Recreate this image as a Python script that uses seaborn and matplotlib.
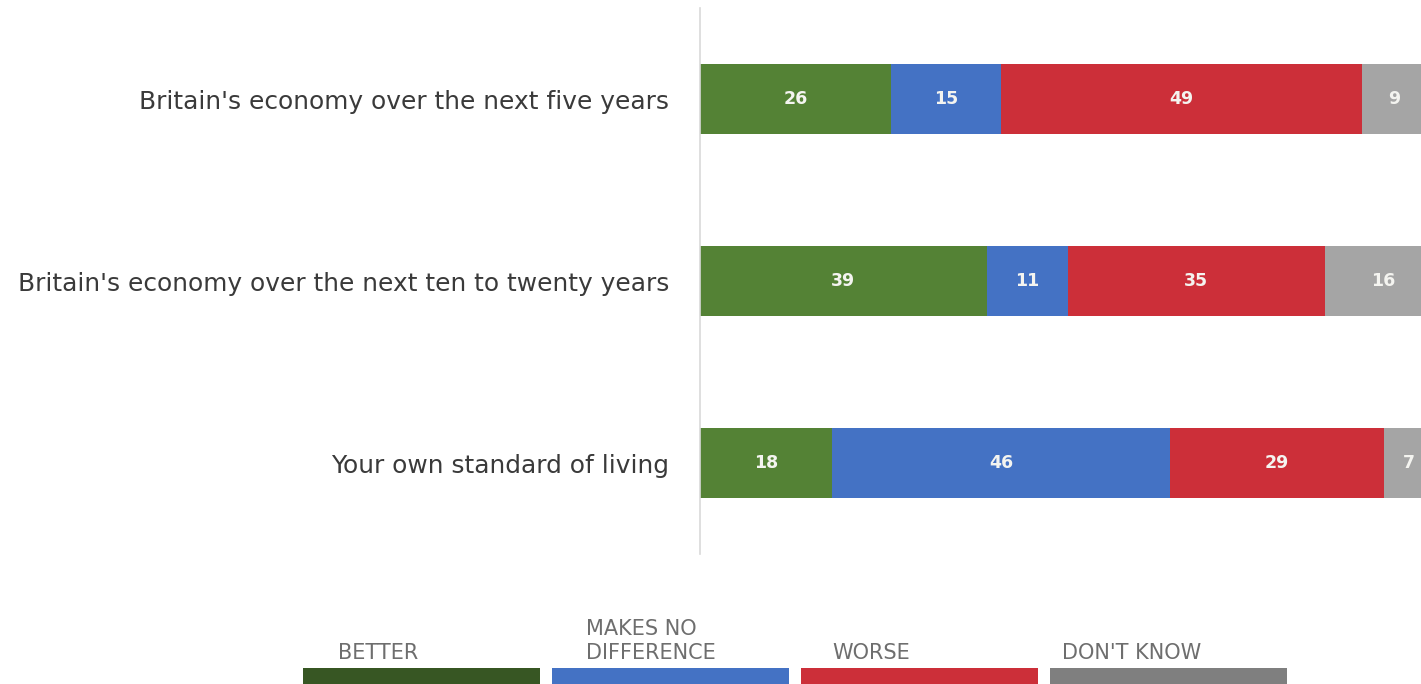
import numpy as np
import pandas as pd
import matplotlib
matplotlib.use("Agg")
import matplotlib.pyplot as plt
import seaborn as sns

# Survey items and answer shares (%)
questions = [
    "Britain's economy over the next five years",
    "Britain's economy over the next ten to twenty years",
    "Your own standard of living",
]
answers = ["BETTER", "MAKES NO\nDIFFERENCE", "WORSE", "DON'T KNOW"]
better = [26, 39, 18]
no_difference = [15, 11, 46]
worse = [49, 35, 29]
dont_know = [9, 16, 7]

bar_colors = ["#548235", "#4472C4", "#CC2F39", "#A5A5A5"]
legend_colors = ["#375623", "#4472C4", "#CC2F39", "#7F7F7F"]

sns.set_theme(style="white")
plt.rcParams["font.family"] = ["DejaVu Sans"]

series = [better, no_difference, worse, dont_know]
df = pd.DataFrame({"question": questions})
for name, vals in zip(answers, series):
    df[name] = vals
cum = df[answers].cumsum(axis=1)

W, H = 1421, 684
fig = plt.figure(figsize=(W / 100, H / 100), dpi=100)
ax = fig.add_axes([700 / W, 1 - 554 / H, (W - 700) / W, 546 / H])

# Stacked bars: draw running totals from the longest down so each segment shows
for name, color in zip(reversed(answers), reversed(bar_colors)):
    sns.barplot(data=cum.assign(question=questions), x=name, y="question",
                color=color, width=0.39, saturation=1, ax=ax,
                edgecolor="none", linewidth=0)

# Segment value labels
for i, q in enumerate(questions):
    for name in answers:
        v = df.loc[i, name]
        c = cum.loc[i, name]
        ax.text(c - v / 2, i, f"{v}", ha="center", va="center",
                color="#F4F4F0", fontsize=12.5, fontweight="bold")

ax.set_xlim(0, (W - 700) / 7.35)
ax.set_ylim(2.5, -0.5)
ax.set_xlabel("")
ax.set_ylabel("")
ax.set_xticks([])
ax.tick_params(axis="y", length=0, pad=22, labelsize=17.9, labelcolor="#3A3A3A")
for s in ["top", "right", "bottom"]:
    ax.spines[s].set_visible(False)
ax.spines["left"].set_color("#D9D9D9")
ax.spines["left"].set_linewidth(1.2)

# Legend row: labels above wide colour swatches
lax = fig.add_axes([303 / W, 0, (4 * 249) / W, 16 / H])
lax.set_xlim(0, 4)
lax.set_ylim(0, 1)
lax.axis("off")
lax.bar(np.arange(len(answers)), [1] * len(answers), width=0.95, align="edge",
        color=legend_colors, linewidth=0)
label_x = [338, 586, 832, 1062]
for lx, name in zip(label_x, answers):
    fig.text(lx / W, 1 - 659 / H, name, ha="left", va="baseline",
             fontsize=15, color="#6E6E6E", linespacing=1.25)

fig.savefig("out.png", dpi=100)
